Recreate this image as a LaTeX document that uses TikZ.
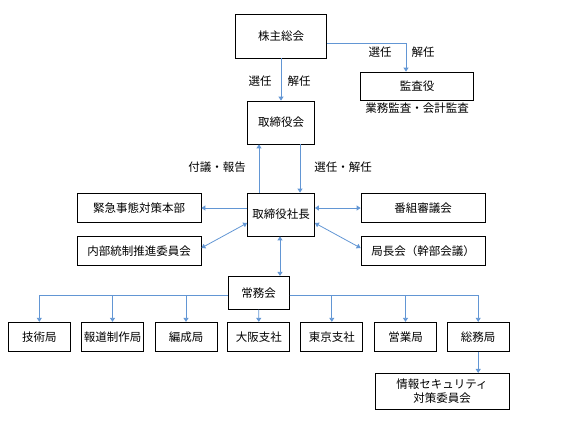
\documentclass[tikz,border=0pt]{standalone}
\usepackage{fontspec}
\setmainfont{Noto Sans CJK JP}
\usepackage{tikz}
\usetikzlibrary{arrows.meta}
\usetikzlibrary{positioning}

\definecolor{linkblue}{RGB}{98,150,212}

\begin{document}
\begin{tikzpicture}[
	x=1pt, y=-1pt,
	>={Triangle[width=5pt,length=4pt]},
	box/.style={
		rectangle,
		draw=black,
		line width=0.7pt,
		text centered,
		inner sep=0pt,
		minimum width=62pt,
		minimum height=29pt
		},
	wide/.style={
		minimum width=124pt
	},
	tall/.style={
		minimum width=67pt,
		minimum height=43pt
	},
	lbl/.style={
		inner sep=1pt
	},
	conn/.style={
		draw=linkblue,
		line width=0.8pt
	},
	every node/.style={font=\fontsize{11.5}{13.5}\selectfont}
]
\useasboundingbox (0,0) rectangle (567,425);

% Top
\node [box, minimum width=91pt, minimum height=44pt] (Shareholders) at (281,36) {株主総会};
\node [box, minimum width=113pt, minimum height=28pt] (Auditor) at (417,86) {監査役};
\node [lbl] (AuditNote) at (417,108.5) {業務監査・会計監査};
\node [box, tall] (Board) at (281,122.5) {取締役会};
\node [box, tall] (President) at (281,214.5) {取締役社長};

% Side committees
\node [box, wide] (Emergency) at (139,208) {緊急事態対策本部};
\node [box, wide] (Internal) at (139,251) {内部統制推進委員会};
\node [box, wide] (Program) at (423,208) {番組審議会};
\node [box, wide] (Directors) at (423,251) {局長会（幹部会議）};

% Executive
\node [box, minimum width=61pt, minimum height=33pt] (Managing) at (258.7,292.7) {常務会};

% Bureaus
\node [box] (Tech) at (39.3,336.7) {技術局};
\node [box] (News) at (112.5,336.7) {報道制作局};
\node [box] (Prog) at (186,336.7) {編成局};
\node [box] (Osaka) at (258.8,336.7) {大阪支社};
\node [box] (Tokyo) at (331.8,336.7) {東京支社};
\node [box] (Sales) at (405.5,336.7) {営業局};
\node [box] (General) at (478.2,336.7) {総務局};
\node [box, minimum width=134pt, minimum height=36pt, align=center] (Security) at (442,391.3) {情報セキュリティ\\対策委員会};

% Labels
\node [lbl] (ElectA) at (260,81) {選任};
\node [lbl] (DismissA) at (299,81) {解任};
\node [lbl] (ElectB) at (380,52) {選任};
\node [lbl] (DismissB) at (423,52) {解任};
\node [lbl] (Report) at (217,167) {付議・報告};
\node [lbl] (Appoint) at (343,167) {選任・解任};

% Connectors
\draw [conn, ->] (Shareholders.south) -- (Board.north);
\draw [conn, ->] ([yshift=-7pt]Shareholders.east) -| ([xshift=-11pt]Auditor.north);
\draw [conn, ->] ([xshift=-22pt]President.north) -- ([xshift=-22pt]Board.south);
\draw [conn, ->] ([xshift=19pt]Board.south) -- ([xshift=19pt]President.north);
\draw [conn, ->] (President.west |- Emergency.east) -- (Emergency.east);
\draw [conn, <->] (President.east |- Program.west) -- (Program.west);
\draw [conn, <->] ([yshift=-8.5pt]President.west) -- ([yshift=3pt]Internal.east);
\draw [conn, <->] ([yshift=-8.5pt]President.east) -- ([yshift=3pt]Directors.west);
\draw [conn, <->] ([xshift=-1pt]President.south) -- ([xshift=-1pt]President.south |- Managing.north);
\foreach \b in {Tech, News, Prog}
	\draw [conn, ->] ([yshift=-2.3pt]Managing.west) -| (\b.north);
\foreach \b in {Tokyo, Sales, General}
	\draw [conn, ->] ([yshift=-2.3pt]Managing.east) -| (\b.north);
\draw [conn, ->] (Managing.south) -- (Osaka.north);
\draw [conn, ->] (General.south) -- (General.south |- Security.north);

\end{tikzpicture}
\end{document}
